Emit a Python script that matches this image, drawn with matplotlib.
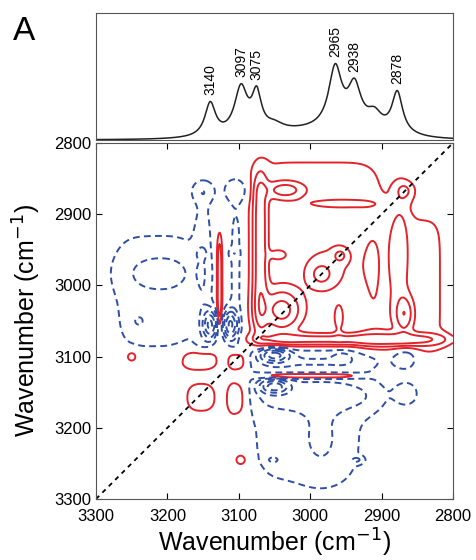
import matplotlib
matplotlib.use("Agg")
import matplotlib.pyplot as plt
import numpy as np

plt.rcParams["font.family"] = ["Liberation Sans", "DejaVu Sans"]

# 1D spectrum (top panel): band positions, heights, half widths
peak_pos = [3140, 3097, 3075, 3050, 2965, 2938, 2910, 2878]
peak_height = [0.26, 0.36, 0.29, 0.05, 0.46, 0.31, 0.11, 0.32]
peak_width = [9, 11, 8, 15, 11, 11, 12, 9]
label_peaks = [3140, 3097, 3075, 2965, 2938, 2878]

# broad background under the bands
bg_pos = [3000, 2930]
bg_height = [0.06, 0.04]
bg_width = [110, 60]

# 2D correlation map, read as blobs:
# centre x / y (cm-1), half widths, amplitude, edge sharpness in x / y
blob_x = [2990, 2870, 3070, 2945, 3040, 3035, 3045, 2955, 2985, 2958, 2972, 2874,
          2867, 2868, 2960, 3127, 3002,
          3250, 3157, 3102, 3153, 3103, 3097,
          3150, 3103, 3150, 3103, 3152, 3107, 3216, 3210, 3240, 3140, 3112,
          2983, 2955, 2867, 3050, 3050, 2988, 2866, 3005, 2985, 3052, 2935]
blob_y = [2955, 3000, 2955, 3076, 3035, 2866, 2957, 2885, 2985, 2958, 2972, 2953,
          2867, 3040, 3047, 3000, 3127,
          3100, 3105, 3106, 3157, 3159, 3245,
          2988, 2988, 2868, 2866, 2955, 2955, 3010, 2983, 3050, 3055, 3055,
          3104, 3100, 3103, 3098, 3142, 3155, 3152, 3185, 3215, 3245, 3245]
blob_sx = [107, 62, 10, 135, 26, 26, 13, 55, 18, 10, 40, 12,
           14, 12, 7, 3.5, 72,
           8, 27, 14, 21, 16, 8,
           12, 12, 17, 17, 7, 7, 68, 52, 7, 9, 9,
           105, 12, 17, 18, 18, 96, 17, 92, 30, 9, 9]
blob_sy = [153, 110, 112, 9, 28, 12, 8, 7, 18, 10, 40, 76,
           14, 24, 20, 68, 4,
           8, 15, 14, 21, 29, 8,
           110, 110, 17, 18, 7, 7, 99, 29, 7, 18, 18,
           17, 8, 15, 9, 9, 25, 17, 115, 50, 5, 5]
blob_amp = [0.14, 0.14, 0.5, 0.5, 0.7, 0.45, 0.2, 0.2, 0.3, 0.3, 0.13, 0.22,
            0.24, 0.5, 0.25, 0.45, 0.45,
            0.25, 0.27, 0.25, 0.22, 0.22, 0.25,
            -0.16, -0.16, -0.22, -0.25, -0.13, -0.13, -0.14, -0.2, -0.2, -1.0, -1.0,
            -0.2, -0.12, -0.28, -1.0, -1.0, -0.2, -0.22, -0.14, -0.15, -0.2, -0.2]
blob_px = [6, 6, 2, 6, 2, 2, 2, 2, 2, 2, 2, 2,
           2, 2, 2, 2, 4,
           2, 2.5, 2.5, 2.5, 2.5, 2,
           2, 2, 2, 2, 2, 2, 4, 2, 2, 2, 2,
           6, 2, 2, 2, 2, 6, 2, 4, 2, 2, 2]
blob_py = [6, 6, 6, 2, 2, 2, 2, 2, 2, 2, 2, 2,
           2, 2, 2, 4, 2,
           2, 2.5, 2.5, 2.5, 2.5, 2,
           6, 6, 2, 2, 2, 2, 4, 2, 2, 2, 2,
           2, 2, 2, 2, 2, 2, 2, 4, 2, 2, 2]

pos_levels = [0.1, 0.25, 0.45, 0.7, 1.0]
neg_levels = [-1.0, -0.7, -0.45, -0.25, -0.1]

wn_ticks = [3300, 3200, 3100, 3000, 2900, 2800]

RED = "#e3232b"
BLUE = "#2f4fa6"


def spectrum(x):
    y = np.zeros_like(x)
    for p, h, w in zip(peak_pos, peak_height, peak_width):
        y += h * w**2 / ((x - p)**2 + w**2)
    for p, h, w in zip(bg_pos, bg_height, bg_width):
        y += h * np.exp(-((x - p) / w)**2)
    return y


def corr_map(X, Y):
    Z = np.zeros_like(X)
    for cx, cy, sx, sy, a, px, py in zip(blob_x, blob_y, blob_sx, blob_sy,
                                         blob_amp, blob_px, blob_py):
        Z += a * np.exp(-np.abs((X - cx) / sx)**px - np.abs((Y - cy) / sy)**py)
    return Z


fig = plt.figure(figsize=(4.76, 5.6), dpi=100)
ax_top = fig.add_axes([96 / 476, 1 - 140 / 560, 357 / 476, 127 / 560])
ax = fig.add_axes([96 / 476, 1 - 499 / 560, 357 / 476, 356 / 560])

# top: 1D spectrum
xs = np.linspace(2800, 3300, 1001)
ys = spectrum(xs)
ax_top.plot(xs, ys, color="#222222", lw=1.1)
for p in label_peaks:
    ax_top.text(p, spectrum(np.array([float(p)]))[0] + 0.05, str(p), rotation=90,
                ha="center", va="bottom", fontsize=10)
ax_top.set_xlim(3300, 2800)
ax_top.set_ylim(0, 1)
ax_top.set_xticks([])
ax_top.set_yticks([])
for s in ax_top.spines.values():
    s.set_color("#555555")

# main: 2D map
g = np.linspace(2800, 3300, 501)
X, Y = np.meshgrid(g, g)
Z = corr_map(X, Y)
ax.contour(X, Y, Z, levels=pos_levels, colors=RED, linewidths=1.4, linestyles="solid")
ax.contour(X, Y, Z, levels=neg_levels, colors=BLUE, linewidths=1.4,
           linestyles=[(0, (3.5, 2.2))])
ax.plot([3300, 2800], [3300, 2800], color="black", lw=1.3, linestyle=(0, (2.5, 2.5)))

ax.set_xlim(3300, 2800)
ax.set_ylim(3300, 2800)
ax.set_xticks(wn_ticks)
ax.set_yticks(wn_ticks)
ax.tick_params(direction="in", top=True, right=True, length=4, labelsize=12)
ax.tick_params(axis="x", pad=7)
for s in ax.spines.values():
    s.set_color("#555555")
ax.set_xlabel("Wavenumber (cm$^{-1}$)", fontsize=18, labelpad=2)
ax.set_ylabel("Wavenumber (cm$^{-1}$)", fontsize=18, labelpad=8)

fig.text(13 / 476, 1 - 40 / 560, "A", fontsize=24)

fig.savefig("out.png", dpi=100)
